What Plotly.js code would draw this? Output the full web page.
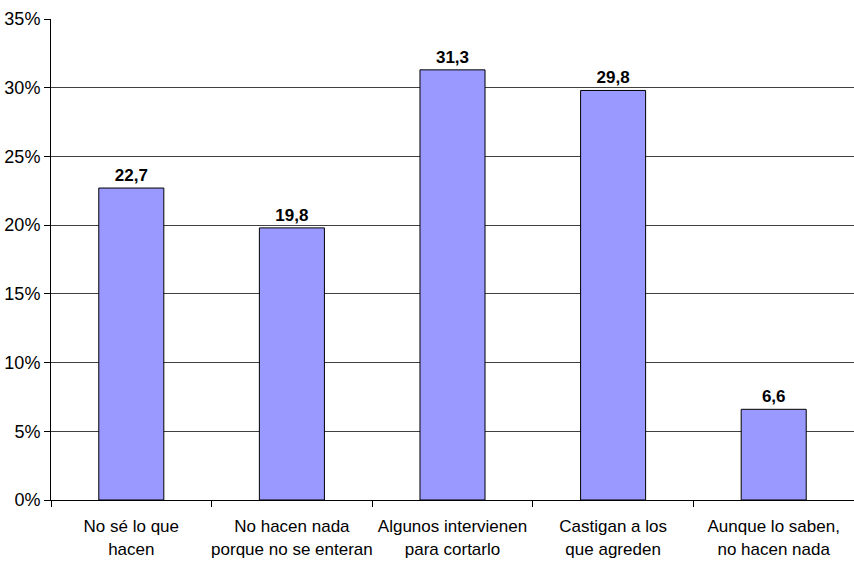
<!DOCTYPE html>
<html>
<head>
<meta charset="utf-8">
<script src="https://cdn.plot.ly/plotly-3.0.1.min.js"></script>
<style>html,body{margin:0;padding:0;background:#fff;}#chart{width:854px;height:565px;}</style>
</head>
<body>
<div id="chart"></div>
<script>
const categories = [
  "No sé lo que<br>hacen",
  "No hacen nada<br>porque no se enteran",
  "Algunos intervienen<br>para cortarlo",
  "Castigan a los<br>que agreden",
  "Aunque lo saben,<br>no hacen nada"
];
const values = [22.7, 19.8, 31.3, 29.8, 6.6];
const yTickVals = [0, 5, 10, 15, 20, 25, 30, 35];
const yTickText = ["0%", "5%", "10%", "15%", "20%", "25%", "30%", "35%"];

const FONT = "'Liberation Sans', Arial, sans-serif";

const trace = {
  type: "bar",
  x: categories,
  y: values,
  text: values.map(v => v.toFixed(1).replace(".", ",")),
  textposition: "outside",
  cliponaxis: false,
  textfont: {family: FONT, size: 17, color: "#000", weight: "bold"},
  marker: {color: "#9999FF", line: {color: "#000", width: 1}},
  hoverinfo: "none"
};

const layout = {
  width: 854, height: 565,
  margin: {l: 51, r: 0, t: 19, b: 65},
  paper_bgcolor: "#fff", plot_bgcolor: "#fff",
  bargap: 0.595,
  showlegend: false,
  font: {family: FONT, size: 17, color: "#000"},
  xaxis: {
    type: "category",
    showgrid: false,
    showline: true, linecolor: "#000", linewidth: 1,
    ticks: "outside", tickson: "boundaries", ticklen: 6, tickcolor: "#000",
    tickangle: 0,
    ticklabelstandoff: 11,
    tickfont: {family: FONT, size: 17, color: "#000"},
    automargin: false
  },
  yaxis: {
    range: [0, 35],
    tickmode: "array", tickvals: yTickVals, ticktext: yTickText,
    showgrid: true, gridcolor: "#404040", gridwidth: 1,
    zeroline: false,
    showline: true, linecolor: "#000", linewidth: 1,
    ticks: "outside", ticklen: 6, tickcolor: "#000",
    tickfont: {family: FONT, size: 18, color: "#000"},
    automargin: false
  }
};

Plotly.newPlot("chart", [trace], layout, {displayModeBar: false, staticPlot: true});
</script>
</body>
</html>
